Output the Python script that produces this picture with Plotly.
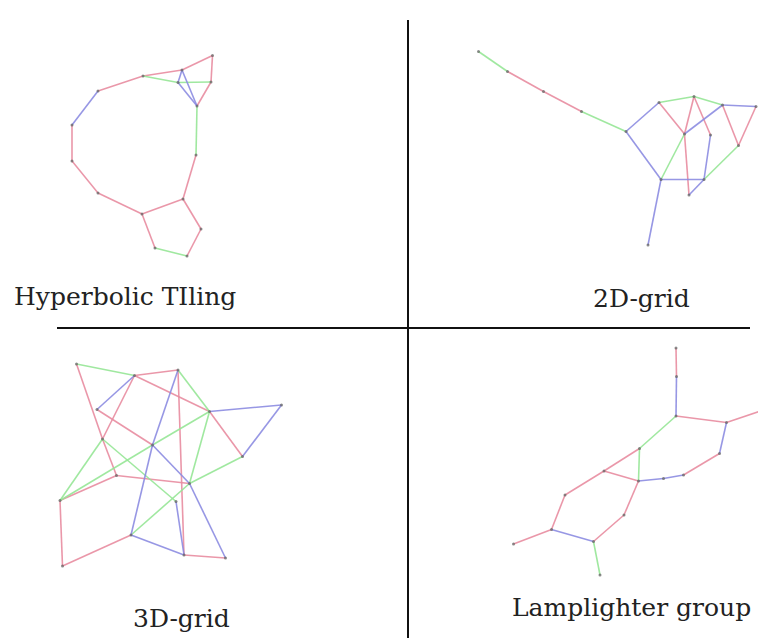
import plotly.graph_objects as go

# ---------------- data ----------------
# Hyperbolic tiling
hyp_nodes = ["A", "B", "C", "D", "E", "F", "G", "H", "I", "J", "K", "L", "M", "N", "O", "P"]
hyp_x = [212.5, 182, 178, 211, 197, 143, 98, 72, 72, 98, 142, 183, 196, 201, 187, 155]
hyp_y = [55.5, 70, 82.5, 82, 106, 76, 91, 125, 161, 193, 214, 199, 155, 229, 256, 248]
hyp_red = [("F", "B"), ("B", "A"), ("A", "D"), ("D", "E"), ("G", "F"), ("H", "I"), ("I", "J"),
           ("J", "K"), ("K", "L"), ("L", "M"), ("K", "P"), ("O", "N"), ("N", "L")]
hyp_blue = [("B", "E"), ("C", "E"), ("B", "C"), ("G", "H")]
hyp_green = [("F", "C"), ("C", "D"), ("E", "M"), ("P", "O")]

# 2D grid
g2_nodes = ["a1", "a2", "a3", "a4", "a5", "a6", "a7", "a8", "a9", "a10", "a11", "a12", "a13", "a14", "a15", "a16"]
g2_x = [478.5, 507.5, 543.5, 581.5, 626, 659, 694, 722.5, 756, 684.5, 710.5, 738.5, 661, 704, 689, 648]
g2_y = [51.5, 71.5, 91.5, 111.5, 131.5, 102.5, 96.5, 105, 106.5, 134, 135, 145.5, 179.5, 179.5, 195, 245]
g2_red = [("a2", "a3"), ("a3", "a4"), ("a6", "a10"), ("a7", "a10"), ("a7", "a11"),
          ("a10", "a15"), ("a8", "a12"), ("a9", "a12")]
g2_blue = [("a5", "a6"), ("a5", "a13"), ("a8", "a9"), ("a10", "a8"), ("a11", "a14"),
           ("a15", "a14"), ("a13", "a14"), ("a13", "a16")]
g2_green = [("a1", "a2"), ("a4", "a5"), ("a6", "a7"), ("a7", "a8"), ("a12", "a14"), ("a13", "a10")]

# 3D grid
g3_nodes = ["n1", "n2", "n3", "n4", "n5", "n6", "n7", "n8", "n9", "n10", "n11", "n12", "n13", "n14", "n15", "n16", "n17"]
g3_x = [76.5, 134.5, 178, 97, 209.5, 281.5, 102.5, 152.5, 116.5, 242.5, 189.5, 60, 176, 131, 184, 225.5, 62.5]
g3_y = [364, 375.5, 370, 409.5, 411.5, 405, 439, 445, 475.5, 456.5, 483.5, 500.5, 501.5, 535, 555, 558, 566]
g3_red = [("n1", "n7"), ("n7", "n9"), ("n2", "n3"), ("n2", "n7"), ("n2", "n5"), ("n5", "n10"),
          ("n3", "n15"), ("n4", "n8"), ("n12", "n9"), ("n9", "n11"), ("n12", "n17"),
          ("n17", "n14"), ("n15", "n16")]
g3_blue = [("n2", "n4"), ("n5", "n6"), ("n6", "n10"), ("n3", "n8"), ("n8", "n14"),
           ("n8", "n11"), ("n11", "n16"), ("n13", "n15"), ("n14", "n15")]
g3_green = [("n1", "n2"), ("n3", "n5"), ("n12", "n7"), ("n7", "n13"), ("n12", "n8"), ("n8", "n5"),
            ("n5", "n11"), ("n14", "n11"), ("n11", "n10")]

# Lamplighter group
lp_nodes = ["l1", "l2", "l3", "l4", "l5", "l6", "l7", "l8", "l9", "l10", "l11", "l12", "l13", "l14", "l15", "l16", "l17"]
lp_x = [676, 676.5, 676, 726.5, 763.5, 719.5, 683.5, 638.5, 639.5, 604, 565, 551.5, 513.5, 593.5, 600, 624, 663.5]
lp_y = [348, 376.5, 416, 422.5, 410, 453.5, 475, 481, 448.5, 471, 495, 529.5, 544, 541.5, 575, 515, 478.5]
lp_red = [("l1", "l2"), ("l3", "l4"), ("l4", "l5"), ("l6", "l7"), ("l9", "l10"), ("l10", "l8"),
          ("l10", "l11"), ("l11", "l12"), ("l12", "l13"), ("l14", "l16"), ("l16", "l8")]
lp_blue = [("l2", "l3"), ("l4", "l6"), ("l7", "l17"), ("l17", "l8"), ("l12", "l14")]
lp_green = [("l3", "l9"), ("l9", "l8"), ("l14", "l15")]

labels = ["Hyperbolic TIling", "2D-grid", "3D-grid", "Lamplighter group"]
label_x = [125, 641, 181, 631]
label_y = [296, 298, 618, 607]

divider_x = [[408, 408], [57, 750]]
divider_y = [[20, 638], [328, 328]]

# ---------------- figure ----------------
RED = "rgba(232,140,160,0.9)"
BLUE = "rgba(140,140,225,0.9)"
GREEN = "rgba(150,230,150,0.9)"

fig = go.Figure()

for dx, dy in zip(divider_x, divider_y):
    fig.add_trace(go.Scatter(x=dx, y=dy, mode="lines",
                             line=dict(color="#111111", width=2), hoverinfo="skip"))

panels = [
    (hyp_nodes, hyp_x, hyp_y, hyp_red, hyp_blue, hyp_green),
    (g2_nodes, g2_x, g2_y, g2_red, g2_blue, g2_green),
    (g3_nodes, g3_x, g3_y, g3_red, g3_blue, g3_green),
    (lp_nodes, lp_x, lp_y, lp_red, lp_blue, lp_green),
]

for nodes, xs, ys, red, blue, green in panels:
    pos = {n: (x, y) for n, x, y in zip(nodes, xs, ys)}
    for edges, col in ((red, RED), (green, GREEN), (blue, BLUE)):
        ex, ey = [], []
        for a, b in edges:
            ex += [pos[a][0], pos[b][0], None]
            ey += [pos[a][1], pos[b][1], None]
        fig.add_trace(go.Scatter(x=ex, y=ey, mode="lines",
                                 line=dict(color=col, width=1.6), hoverinfo="skip"))
    fig.add_trace(go.Scatter(x=xs, y=ys, mode="markers",
                             marker=dict(color="rgba(100,100,100,0.75)", size=3), hoverinfo="skip"))

for t, x, y in zip(labels, label_x, label_y):
    fig.add_annotation(x=x, y=y, text=t, showarrow=False, xanchor="center", yanchor="middle",
                       font=dict(family="DejaVu Serif", size=25, color="#222222"))

# page body has an 8px margin: the plot div starts at (8, 8)
OFF = 8
fig.update_layout(
    width=766 - OFF, height=638 - OFF, margin=dict(l=0, r=0, t=0, b=0),
    paper_bgcolor="white", plot_bgcolor="white", showlegend=False,
    xaxis=dict(range=[OFF, 766], visible=False, fixedrange=True),
    yaxis=dict(range=[638, OFF], visible=False, fixedrange=True),
)

fig.write_html("out.html")
